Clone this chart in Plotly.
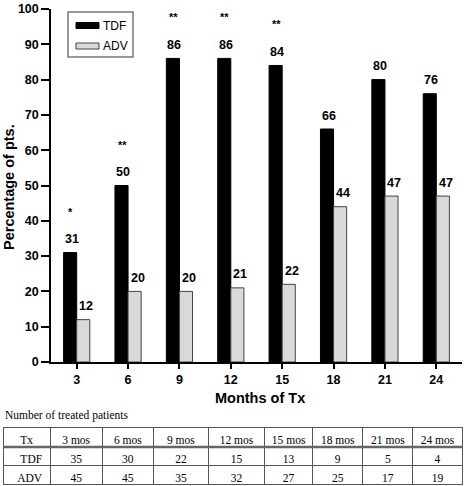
import plotly.graph_objects as go

# ---------------- data ----------------
months = ["3", "6", "9", "12", "15", "18", "21", "24"]
tdf_pct = [31, 50, 86, 86, 84, 66, 80, 76]
adv_pct = [12, 20, 20, 21, 22, 44, 47, 47]
signif = ["*", "**", "**", "**", "**", "", "", ""]

table_header = ["Tx", "3 mos", "6 mos", "9 mos", "12 mos", "15 mos", "18 mos", "21 mos", "24 mos"]
row_labels = ["TDF", "ADV"]
tdf_n = [35, 30, 22, 15, 13, 9, 5, 4]
adv_n = [45, 45, 35, 32, 27, 25, 17, 19]

# ---------------- style ----------------
W, H = 464, 486
SANS = "Liberation Sans, Arial, sans-serif"
SERIF = "Liberation Serif, Times New Roman, serif"
TDF_COLOR = "#000000"
ADV_COLOR = "#d9d9d9"
ADV_LINE = "#444444"
NBSP = "\u00a0"


def px_x(p):
    return p / W


def px_y(p):
    return 1 - p / H


fig = go.Figure()
fig.add_trace(go.Bar(x=months, y=tdf_pct, name="TDF",
                     marker=dict(color=TDF_COLOR, line=dict(color="#000", width=1))))
fig.add_trace(go.Bar(x=months, y=adv_pct, name="ADV",
                     marker=dict(color=ADV_COLOR, line=dict(color=ADV_LINE, width=1))))

# table of treated patients
header_txt = [h.replace(" ", NBSP) for h in table_header]
cell_cols = [row_labels] + [[a, b] for a, b in zip(tdf_n, adv_n)]
fig.add_trace(go.Table(
    domain=dict(x=[px_x(3), px_x(462)], y=[0, px_y(427.5)]),
    columnwidth=[47, 52, 51, 55, 56, 48, 50, 50, 49],
    header=dict(values=header_txt, height=19, align="center",
                font=dict(family=SERIF, size=11.5, color="black"),
                fill=dict(color="white"), line=dict(color="#555", width=1)),
    cells=dict(values=cell_cols, height=19,
               align=["right"] + ["center"] * 8,
               font=dict(family=SERIF, size=11.5, color="black"),
               fill=dict(color="white"), line=dict(color="#555", width=1)),
))

annotations = []
for i, (t, a, s) in enumerate(zip(tdf_pct, adv_pct, signif)):
    annotations.append(dict(x=i, y=t, xref="x", yref="y", text=f"<b>{t}</b>",
                            showarrow=False, yanchor="middle", xshift=-5, yshift=13.5,
                            font=dict(family=SANS, size=12.5, color="black")))
    annotations.append(dict(x=i, y=a, xref="x", yref="y", text=f"<b>{a}</b>",
                            showarrow=False, yanchor="middle", xshift=9.5, yshift=13.5,
                            font=dict(family=SANS, size=12.5, color="black")))
    if s:
        annotations.append(dict(x=i, y=t, xref="x", yref="y", text=f"<b>{s}</b>",
                                showarrow=False, yanchor="middle", xshift=-6, yshift=41,
                                font=dict(family=SANS, size=11, color="black")))

# axis titles
annotations.append(dict(x=px_x(260), y=px_y(398), xref="paper", yref="paper",
                        text="<b>Months of Tx</b>", showarrow=False,
                        xanchor="center", yanchor="middle",
                        font=dict(family=SANS, size=14.5, color="black")))
annotations.append(dict(x=px_x(9), y=px_y(187), xref="paper", yref="paper",
                        text="<b>Percentage of pts.</b>", showarrow=False, textangle=-90,
                        xanchor="center", yanchor="middle",
                        font=dict(family=SANS, size=14.5, color="black")))
annotations.append(dict(x=px_x(3), y=px_y(415), xref="paper", yref="paper",
                        text="Number of treated patients", showarrow=False,
                        xanchor="left", yanchor="middle",
                        font=dict(family=SERIF, size=11.5, color="black")))

# custom legend
annotations.append(dict(x=px_x(101), y=px_y(25.5), xref="paper", yref="paper", text="TDF",
                        showarrow=False, xanchor="left", yanchor="middle",
                        font=dict(family=SANS, size=12, color="black")))
annotations.append(dict(x=px_x(101), y=px_y(46), xref="paper", yref="paper", text="ADV",
                        showarrow=False, xanchor="left", yanchor="middle",
                        font=dict(family=SANS, size=12, color="black")))

shapes = [
    dict(type="rect", xref="paper", yref="paper", x0=px_x(68), x1=px_x(133),
         y0=px_y(57), y1=px_y(12), line=dict(color="#777", width=1.5), fillcolor="white",
         layer="below"),
    dict(type="rect", xref="paper", yref="paper", x0=px_x(76), x1=px_x(99),
         y0=px_y(28.5), y1=px_y(22.5), line=dict(color="#000", width=1), fillcolor=TDF_COLOR),
    dict(type="rect", xref="paper", yref="paper", x0=px_x(76), x1=px_x(99),
         y0=px_y(49), y1=px_y(43), line=dict(color=ADV_LINE, width=1), fillcolor=ADV_COLOR),
    # double line under table header
    dict(type="line", xref="paper", yref="paper", x0=px_x(3), x1=px_x(462),
         y0=px_y(447), y1=px_y(447), line=dict(color="#666", width=2.5)),
]

fig.update_layout(
    width=W, height=H, template="none",
    margin=dict(l=0, r=0, t=0, b=0, pad=0),
    paper_bgcolor="white", plot_bgcolor="white",
    barmode="group", bargap=0.49, bargroupgap=0,
    showlegend=False,
    annotations=annotations, shapes=shapes,
    xaxis=dict(domain=[px_x(51), px_x(462)], type="category", range=[-0.5, 7.5],
               showgrid=False, zeroline=False, showline=True, linecolor="black", linewidth=1.5,
               ticks="outside", ticklen=5, tickwidth=1.5, tickcolor="black",
               tickfont=dict(family=SANS, size=12.5, color="black"),
               tickprefix="<b>", ticksuffix="</b>",
               automargin=False, fixedrange=True),
    yaxis=dict(domain=[px_y(362), px_y(9)], range=[0, 100], dtick=10,
               showgrid=False, zeroline=False, showline=True, linecolor="black", linewidth=1.5,
               ticks="outside", ticklen=8, tickwidth=1.5, tickcolor="black",
               tickfont=dict(family=SANS, size=12.5, color="black"),
               tickprefix="<b>", ticksuffix="</b>",
               automargin=False, fixedrange=True),
)

fig.write_html("out.html", config={"displayModeBar": False},
               post_script="document.body.style.margin='0px';")
